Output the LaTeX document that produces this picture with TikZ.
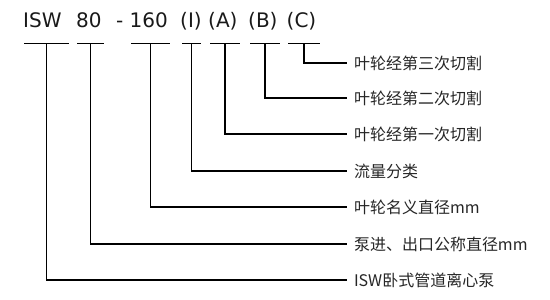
\documentclass[tikz,border=0pt]{standalone}
\usepackage{fontspec}
\setmainfont{DejaVu Sans}
\newfontfamily\cjk{Noto Sans CJK SC}
\begin{document}
\begin{tikzpicture}[x=1pt,y=-1pt,
  part/.style={anchor=base west, inner sep=0pt, font=\fontsize{20}{24}\selectfont, text=black!90},
  lbl/.style={anchor=west, inner sep=0pt, outer xsep=7pt, font=\cjk\fontsize{16}{18}\selectfont, text=black!85},
  uline/.style={line width=1.2pt},
  lead/.style={line width=1.2pt}]
\useasboundingbox (0,0) rectangle (550,300);
% code parts
\node[part] (p1) at (23,27.5) {ISW};
\node[part] (p2) at (76,27.5) {80};
\node[part] (pd) at (116,27.5) {-};
\node[part] (p3) at (129.5,27.5) {160};
\node[part] (p4) at (180,27.5) {(I)};
\node[part] (p5) at (208,27.5) {(A)};
\node[part] (p6) at (248,27.5) {(B)};
\node[part] (p7) at (286.5,27.5) {(C)};
% underlines
\draw[uline] (24,43.5) -- coordinate[pos=0.5] (c1) (69,43.5);
\draw[uline] (77,43.5) -- coordinate[pos=0.5] (c2) (104,43.5);
\draw[uline] (131,43.5) -- coordinate[pos=0.5] (c3) (170,43.5);
\draw[uline] (182,43.5) -- coordinate[pos=0.5] (c4) (201,43.5);
\draw[uline] (210,43.5) -- coordinate[pos=0.5] (c5) (240,43.5);
\draw[uline] (250,43.5) -- coordinate[pos=0.5] (c6) (280,43.5);
\draw[uline] (288,43.5) -- coordinate[pos=0.5] (c7) (320,43.5);
% labels
\node[lbl] (l7) at (347,63) {叶轮经第三次切割};
\node[lbl] (l6) at (347,98) {叶轮经第二次切割};
\node[lbl] (l5) at (347,134) {叶轮经第一次切割};
\node[lbl] (l4) at (347,171) {流量分类};
\node[lbl] (l3) at (347,207) {叶轮名义直径mm};
\node[lbl] (l2) at (347,244) {泵进、出口公称直径mm};
\node[lbl] (l1) at (347,280) {ISW卧式管道离心泵};
% leaders
\draw[lead] (c7) |- (l7.west);
\draw[lead] (c6) |- (l6.west);
\draw[lead] (c5) |- (l5.west);
\draw[lead] (c4) |- (l4.west);
\draw[lead] (c3) |- (l3.west);
\draw[lead] (c2) |- (l2.west);
\draw[lead] (c1) |- (l1.west);
\end{tikzpicture}
\end{document}
